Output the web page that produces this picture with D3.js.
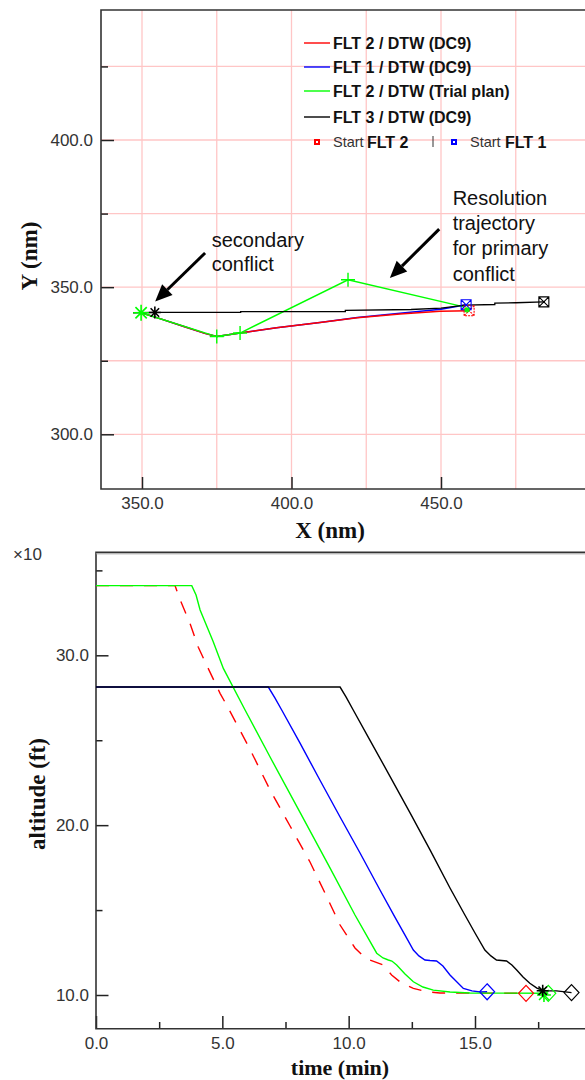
<!DOCTYPE html>
<html>
<head>
<meta charset="utf-8">
<script src="https://cdn.jsdelivr.net/npm/d3@7"></script>
<style>
  html, body { margin: 0; padding: 0; background: #fff; }
  svg { display: block; }
</style>
</head>
<body>
<svg id="chart" width="585" height="1080"></svg>
<script>
// ---------------- Plan view data (X, Y in nm) ----------------
const trackNames  = ["FLT 2 / DTW (DC9)", "FLT 1 / DTW (DC9)", "FLT 2 / DTW (Trial plan)", "FLT 3 / DTW (DC9)"];
const trackColors = ["#ff0000", "#0000ff", "#00ff00", "#000000"];

const flt2Track  = [[349.7,341.3],[356,339.3],[364,336.6],[371,334.3],[375,333.2],[382.8,334.4],[395,336.2],[409.5,338.0],[422,339.6],[436.3,340.9],[449.7,341.8],[459.4,342.0]];
const flt1Track  = [[349.7,341.3],[356,339.3],[364,336.6],[371,334.3],[375,333.2],[382.8,334.4],[395,336.2],[409.5,338.0],[422,339.7],[436.3,341.1],[450,342.5],[458.4,344.0]];
const trialTrack = [[349.7,341.3],[375,333.2],[382.8,334.4],[418.9,352.5],[457.7,343.3]];
const flt3Track  = [[347.0,341.3],[354.3,341.4],[383,341.4],[383,341.7],[418,341.7],[418,342.1],[440,342.4],[450,342.9],[458,343.9],[468,344.1],[468,344.6],[475,344.7],[484.4,345.0]];

const trialVertices = [[375,333.2],[382.8,334.4],[418.9,352.5]];
const trackStarts   = [[459.4,342.0,"#ff0000"],[458.4,344.0,"#0000ff"],[484.4,345.0,"#000000"]];
const conflictStars = [[349.7,341.3,"#00ff00"],[354.3,341.4,"#000000"]];

const xTrackGrid   = [350, 375, 400, 425, 450, 475];
const yTrackGrid   = [300, 325, 350, 375, 400, 425];
const xTrackTicks  = [350, 400, 450];
const yTrackTicks  = [300, 350, 400];
const yTrackMinor  = [325, 375, 425];

// ---------------- Altitude profile data (time min, altitude x10 ft) ----------------
const flt2Alt = [[0,34.1],[3.13,34.1],[3.30,33.37],[3.72,31.88],[4.05,30.47],[4.44,29.23],[4.91,27.76],[5.17,27.07],[6.09,24.48],[6.89,22.07],[7.68,19.95],[8.47,17.83],[9.06,16.01],[9.66,14.12],[10.25,12.77],[10.65,12.18],[10.84,12.06],[11.36,11.77],[11.70,11.18],[12.10,10.69],[12.56,10.39],[13.09,10.19],[13.61,10.12],[17.02,10.10]];
const flt1Alt = [[0,28.13],[6.82,28.13],[7.08,27.49],[7.35,26.78],[8.07,24.84],[8.86,22.66],[9.66,20.48],[10.45,18.36],[11.24,16.18],[11.83,14.59],[12.23,13.53],[12.56,12.65],[12.78,12.30],[13.02,12.06],[13.22,12.03],[13.48,12.00],[13.73,11.71],[14.01,11.18],[14.54,10.39],[14.88,10.24],[15.20,10.18],[15.48,10.19]];
const trialAlt = [[0,34.1],[3.79,34.1],[3.96,33.55],[4.12,32.67],[4.64,30.80],[5.04,29.23],[5.90,26.78],[6.89,24.01],[8.07,20.77],[9.26,17.48],[10.25,14.71],[11.11,12.46],[11.36,12.18],[11.57,12.06],[11.71,12.00],[11.90,11.77],[12.23,11.24],[12.56,10.78],[12.94,10.47],[13.35,10.29],[14.01,10.18],[14.80,10.12],[17.90,10.10]];
const flt3Alt = [[0,28.13],[9.66,28.13],[9.90,27.54],[10.18,26.78],[10.84,25.01],[11.63,22.89],[12.43,20.72],[13.22,18.54],[14.01,16.30],[14.60,14.71],[15.00,13.65],[15.39,12.65],[15.63,12.30],[15.85,12.06],[16.25,12.00],[16.46,11.77],[16.65,11.47],[16.90,11.06],[17.17,10.69],[17.45,10.41],[17.70,10.25],[18.23,10.24],[18.82,10.14]];

const altEnds  = [[15.48,10.19,"#0000ff"],[17.02,10.10,"#ff0000"],[17.90,10.10,"#00ff00"],[18.82,10.14,"#000000"]];
const altStars = [[17.73,10.0,"#00ff00"],[17.68,10.25,"#000000"]];

const xTimeTicks = [0, 5, 10, 15];
const xTimeMinor = [2.5, 7.5, 12.5, 17.5];
const yAltTicks  = [10, 20, 30];
const yAltMinor  = [15, 25, 35];

// ---------------- Shared helpers ----------------
const svg = d3.select("#chart");
const SANS  = "'Liberation Sans', Arial, Helvetica, sans-serif";
const SERIF = "'Liberation Serif', 'Times New Roman', serif";
const fmt1 = d3.format(".1f");

function asteriskPath(cx, cy, r) {
  let p = "";
  [0, 45, 90, 135].forEach(a => {
    const rad = a * Math.PI / 180, dx = r * Math.cos(rad), dy = r * Math.sin(rad);
    p += `M${cx - dx},${cy - dy}L${cx + dx},${cy + dy}`;
  });
  return p;
}
function plusPath(cx, cy, r) {
  return `M${cx - r},${cy}L${cx + r},${cy}M${cx},${cy - r}L${cx},${cy + r}`;
}
function boxCrossPath(cx, cy, r) {
  return `M${cx - r},${cy - r}H${cx + r}V${cy + r}H${cx - r}Z` +
         `M${cx - r},${cy - r}L${cx + r},${cy + r}M${cx + r},${cy - r}L${cx - r},${cy + r}`;
}
function diamondPath(cx, cy, rx, ry) {
  return `M${cx},${cy - ry}L${cx + rx},${cy}L${cx},${cy + ry}L${cx - rx},${cy}Z`;
}
function styleAxis(g) {
  g.select(".domain").remove();
  g.selectAll(".tick line").attr("stroke", "#222").attr("stroke-width", 1.5);
  g.selectAll(".tick text").attr("font-family", SANS).attr("font-size", 17).attr("fill", "#333");
}
function axisTitle(text, x, y, size, rotate) {
  svg.append("text")
    .attr("transform", `translate(${x},${y})` + (rotate ? " rotate(-90)" : ""))
    .attr("text-anchor", "middle")
    .attr("font-family", SERIF).attr("font-weight", "bold").attr("font-size", size).attr("fill", "#111")
    .text(text);
}

// ================= Plan view (top panel) =================
const P = { left: 101, top: 10, right: 620, bottom: 489 };
const xT = d3.scaleLinear().domain([350, 450]).range([142, 441]);
const yT = d3.scaleLinear().domain([300, 400]).range([434.3, 140]);

const gTop = svg.append("g");

// pink grid
gTop.append("g").selectAll("line").data(xTrackGrid).join("line")
  .attr("x1", d => xT(d)).attr("x2", d => xT(d))
  .attr("y1", P.top).attr("y2", P.bottom)
  .attr("stroke", "#ffc6c6").attr("stroke-width", 1.3);
gTop.append("g").selectAll("line").data(yTrackGrid).join("line")
  .attr("x1", P.left).attr("x2", P.right)
  .attr("y1", d => yT(d)).attr("y2", d => yT(d))
  .attr("stroke", "#ffc6c6").attr("stroke-width", 1.3);

// axes (ticks point inward)
gTop.append("g").attr("transform", `translate(${P.left},0)`)
  .call(d3.axisLeft(yT).tickValues(yTrackTicks).tickSize(-13).tickPadding(8).tickFormat(fmt1))
  .call(styleAxis);
gTop.append("g").attr("transform", `translate(${P.left},0)`)
  .call(d3.axisLeft(yT).tickValues(yTrackMinor).tickSize(-7).tickFormat(""))
  .call(styleAxis);
gTop.append("g").attr("transform", `translate(0,${P.bottom})`)
  .call(d3.axisBottom(xT).tickValues(xTrackTicks).tickSize(-12).tickPadding(8).tickFormat(fmt1))
  .call(styleAxis);

// frame
gTop.append("path")
  .attr("d", `M${P.right},${P.top}H${P.left}V${P.bottom}H${P.right}`)
  .attr("fill", "none").attr("stroke", "#333").attr("stroke-width", 1.6);

axisTitle("X (nm)", 330, 538, 23, false);
axisTitle("Y (nm)", 37, 256, 23, true);

// tracks
const lineT = d3.line().x(d => xT(d[0])).y(d => yT(d[1]));
const trackData = [flt1Track, flt2Track, trialTrack, flt3Track];
const trackColorOrder = [trackColors[1], trackColors[0], trackColors[2], trackColors[3]];
gTop.append("g").selectAll("path").data(trackData).join("path")
  .attr("d", lineT)
  .attr("fill", "none")
  .attr("stroke", (d, i) => trackColorOrder[i])
  .attr("stroke-width", (d, i) => i === 3 ? 1.3 : 1.5);

// trial-plan vertices
gTop.append("g").selectAll("path").data(trialVertices).join("path")
  .attr("d", d => plusPath(xT(d[0]), yT(d[1]), 7))
  .attr("stroke", "#00ff00").attr("stroke-width", 1.4).attr("fill", "none");

// start markers
gTop.append("g").selectAll("path").data(trackStarts).join("path")
  .attr("d", d => boxCrossPath(xT(d[0]), yT(d[1]), 5))
  .attr("stroke", d => d[2]).attr("stroke-width", 1.1).attr("fill", "none")
  .attr("stroke-dasharray", (d, i) => i === 0 ? "2,1" : null);
gTop.append("path")
  .attr("d", asteriskPath(xT(trialTrack[trialTrack.length - 1][0]) + 3, yT(trialTrack[trialTrack.length - 1][1]) + 3, 3))
  .attr("stroke", "#00ff00").attr("stroke-width", 1.1);

// conflict asterisks
gTop.append("g").selectAll("path").data(conflictStars).join("path")
  .attr("d", (d, i) => asteriskPath(xT(d[0]), yT(d[1]), i === 0 ? 8 : 6))
  .attr("stroke", d => d[2]).attr("stroke-width", 1.6);

// legend
const legend = gTop.append("g");
const legendRowsY = [43, 67, 91, 117];
trackNames.forEach((name, i) => {
  legend.append("line").attr("x1", 304).attr("x2", 330)
    .attr("y1", legendRowsY[i]).attr("y2", legendRowsY[i])
    .attr("stroke", trackColors[i]).attr("stroke-width", 1.4);
  legend.append("text").attr("x", 333).attr("y", legendRowsY[i] + 6)
    .attr("font-family", SANS).attr("font-weight", "bold").attr("font-size", 16).attr("fill", "#111")
    .text(name);
});
const startRowY = 142;
[[317, "#ff0000", 333, 367, "FLT 2"], [454, "#0000ff", 470, 505, "FLT 1"]].forEach(s => {
  legend.append("rect").attr("x", s[0] - 3).attr("y", startRowY - 3).attr("width", 6).attr("height", 6).attr("fill", s[1]);
  legend.append("rect").attr("x", s[0] - 1).attr("y", startRowY - 1).attr("width", 2).attr("height", 2).attr("fill", "#fff");
  legend.append("text").attr("x", s[2]).attr("y", startRowY + 5)
    .attr("font-family", SANS).attr("font-size", 14.5).attr("fill", "#333").text("Start");
  legend.append("text").attr("x", s[3]).attr("y", startRowY + 6)
    .attr("font-family", SANS).attr("font-weight", "bold").attr("font-size", 16).attr("fill", "#111").text(s[4]);
});
legend.append("line").attr("x1", 433).attr("x2", 433).attr("y1", 136).attr("y2", 147)
  .attr("stroke", "#333").attr("stroke-width", 1);

// annotations
function arrow(g, x1, y1, x2, y2) {
  const ang = Math.atan2(y2 - y1, x2 - x1), L = 17, W = 7.5;
  const bx = x2 - L * Math.cos(ang), by = y2 - L * Math.sin(ang);
  g.append("line").attr("x1", x1).attr("y1", y1).attr("x2", bx).attr("y2", by)
    .attr("stroke", "#000").attr("stroke-width", 3);
  const px = -Math.sin(ang) * W, py = Math.cos(ang) * W;
  g.append("path").attr("d", `M${x2},${y2}L${bx + px},${by + py}L${bx - px},${by - py}Z`).attr("fill", "#000");
}
const ann = svg.append("g");
arrow(ann, xT(371.1), yT(361.6), xT(354.4), yT(345.1));
arrow(ann, xT(449.4), yT(369.7), xT(432.9), yT(353.1));
const secLines = ["secondary", "conflict"];
ann.append("text").attr("font-family", SANS).attr("font-size", 20).attr("fill", "#111")
  .selectAll("tspan").data(secLines).join("tspan")
  .attr("x", xT(373.3)).attr("y", (d, i) => yT(363.8) + i * 24).text(d => d);
const resLines = ["Resolution", "trajectory", "for primary", "conflict"];
ann.append("text").attr("font-family", SANS).attr("font-size", 20).attr("fill", "#111")
  .selectAll("tspan").data(resLines).join("tspan")
  .attr("x", xT(453.9)).attr("y", (d, i) => yT(378.0) + i * 25.3).text(d => d);

// ================= Altitude profile (bottom panel) =================
const B = { left: 96, top: 552.3, right: 620, bottom: 1028.7 };
const xB = d3.scaleLinear().domain([0, 15]).range([96, 475]);
const yB = d3.scaleLinear().domain([10, 30]).range([995, 655.3]);

const gBot = svg.append("g");

gBot.append("g").attr("transform", `translate(${B.left},0)`)
  .call(d3.axisLeft(yB).tickValues(yAltTicks).tickSize(-12.5).tickPadding(7).tickFormat(fmt1))
  .call(styleAxis);
gBot.append("g").attr("transform", `translate(${B.left},0)`)
  .call(d3.axisLeft(yB).tickValues(yAltMinor).tickSize(-6.5).tickFormat(""))
  .call(styleAxis);
gBot.append("g").attr("transform", `translate(0,${B.bottom})`)
  .call(d3.axisBottom(xB).tickValues(xTimeTicks).tickSize(-12.7).tickPadding(8).tickFormat(fmt1))
  .call(styleAxis);
gBot.append("g").attr("transform", `translate(0,${B.bottom})`)
  .call(d3.axisBottom(xB).tickValues(xTimeMinor).tickSize(-6.7).tickFormat(""))
  .call(styleAxis);

gBot.append("path")
  .attr("d", `M${B.right},${B.top}H${B.left}V${B.bottom}H${B.right}`)
  .attr("fill", "none").attr("stroke", "#333").attr("stroke-width", 1.6);
gBot.append("line").attr("x1", B.left).attr("x2", B.right).attr("y1", B.top + 1.5).attr("y2", B.top + 1.5)
  .attr("stroke", "#999").attr("stroke-width", 1);

svg.append("text").attr("x", 13).attr("y", 560)
  .attr("font-family", SANS).attr("font-size", 17).attr("fill", "#333").text("×10");
axisTitle("time (min)", 340, 1075, 22, false);
axisTitle("altitude (ft)", 45, 794, 23, true);

// profiles: the trial plan is drawn over FLT 2 and FLT 3 over FLT 1
const lineB = d3.line().x(d => xB(d[0])).y(d => yB(d[1]));
const altSeries = [
  { data: flt2Alt, color: "#ff0000", dash: "13,11" },
  { data: flt1Alt, color: "#0000ff", dash: null },
  { data: trialAlt, color: "#00ff00", dash: null },
  { data: flt3Alt, color: "#000000", dash: null }
];
gBot.append("g").selectAll("path").data(altSeries).join("path")
  .attr("d", d => lineB(d.data))
  .attr("fill", "none")
  .attr("stroke", d => d.color)
  .attr("stroke-width", 1.4)
  .attr("stroke-dasharray", d => d.dash);

gBot.append("g").selectAll("path").data(altEnds).join("path")
  .attr("d", d => diamondPath(xB(d[0]), yB(d[1]), 7.5, 8))
  .attr("fill", "none").attr("stroke", d => d[2]).attr("stroke-width", 1.2);
gBot.append("g").selectAll("path").data(altStars).join("path")
  .attr("d", (d, i) => asteriskPath(xB(d[0]), yB(d[1]), i === 0 ? 7 : 6))
  .attr("stroke", d => d[2]).attr("stroke-width", 1.6);
</script>
</body>
</html>
